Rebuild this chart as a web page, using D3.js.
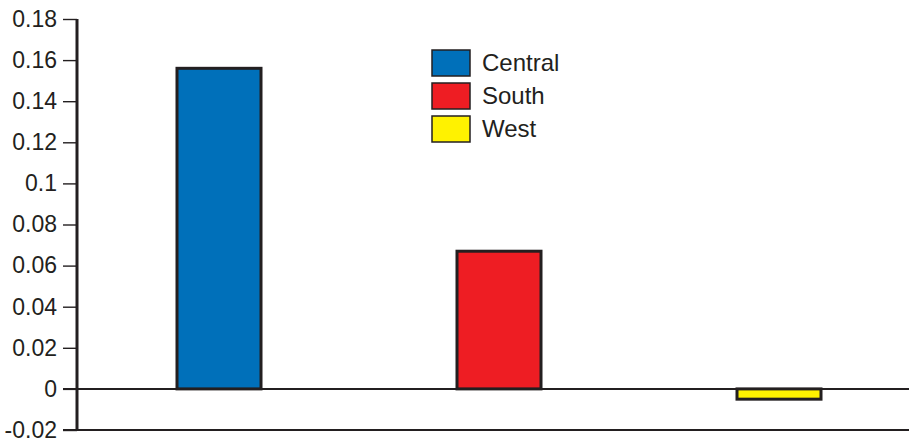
<!DOCTYPE html>
<html><head><meta charset="utf-8">
<script src="https://cdn.jsdelivr.net/npm/d3@7"></script>
<style>body{margin:0;background:#fff}svg{display:block}</style>
</head><body>
<svg id="c" width="909" height="443"></svg>
<script>
const categories = ["Central", "South", "West"];
const values = [0.156, 0.067, -0.005];
const colors = ["#0070BA", "#EE1D23", "#FFF200"];
const tickValues = [-0.02, 0, 0.02, 0.04, 0.06, 0.08, 0.1, 0.12, 0.14, 0.16, 0.18];
const tickLabels = ["-0.02", "0", "0.02", "0.04", "0.06", "0.08", "0.1", "0.12", "0.14", "0.16", "0.18"];

const svg = d3.select("#c");
const ink = "#231f20";
const y = d3.scaleLinear().domain([-0.02, 0.18]).range([430, 19]);
const x = d3.scaleBand().domain(categories).range([79, 919]).paddingInner(0.7).paddingOuter(0.35);

// ticks
const yAxis = d3.axisLeft(y).tickValues(tickValues).tickSize(14).tickPadding(6)
  .tickFormat((d, i) => tickLabels[i]);
const g = svg.append("g").attr("transform", "translate(77,0)").call(yAxis);
g.select(".domain").remove();
g.selectAll(".tick line").attr("stroke", ink).attr("stroke-width", 1.4);
g.selectAll(".tick text").attr("fill", ink).style("font-family", "Liberation Sans, Arial, sans-serif").style("font-size", "23px");

// zero line and bottom line
svg.append("line").attr("x1", 63).attr("x2", 909).attr("y1", y(0)).attr("y2", y(0)).attr("stroke", ink).attr("stroke-width", 2);
svg.append("line").attr("x1", 63).attr("x2", 909).attr("y1", y(-0.02)).attr("y2", y(-0.02)).attr("stroke", ink).attr("stroke-width", 2);

// bars
svg.selectAll("rect.bar").data(values).enter().append("rect").attr("class", "bar")
  .attr("x", (d, i) => x(categories[i]))
  .attr("width", x.bandwidth())
  .attr("y", d => y(Math.max(0, d)))
  .attr("height", d => Math.abs(y(d) - y(0)))
  .attr("fill", (d, i) => colors[i])
  .attr("stroke", ink).attr("stroke-width", 3);

// y axis line
svg.append("line").attr("x1", 77).attr("x2", 77).attr("y1", y(0.18)).attr("y2", y(-0.02) + 1).attr("stroke", ink).attr("stroke-width", 3);

// legend
const lg = svg.append("g");
categories.forEach((c, i) => {
  const yy = 50 + i * 33;
  lg.append("rect").attr("x", 432).attr("y", yy).attr("width", 38).attr("height", 26)
    .attr("fill", colors[i]).attr("stroke", ink).attr("stroke-width", 1.5);
  lg.append("text").attr("x", 482).attr("y", yy + 21).text(c)
    .attr("fill", ink).style("font-family", "Liberation Sans, Arial, sans-serif").style("font-size", "24px");
});
</script>
</body></html>
